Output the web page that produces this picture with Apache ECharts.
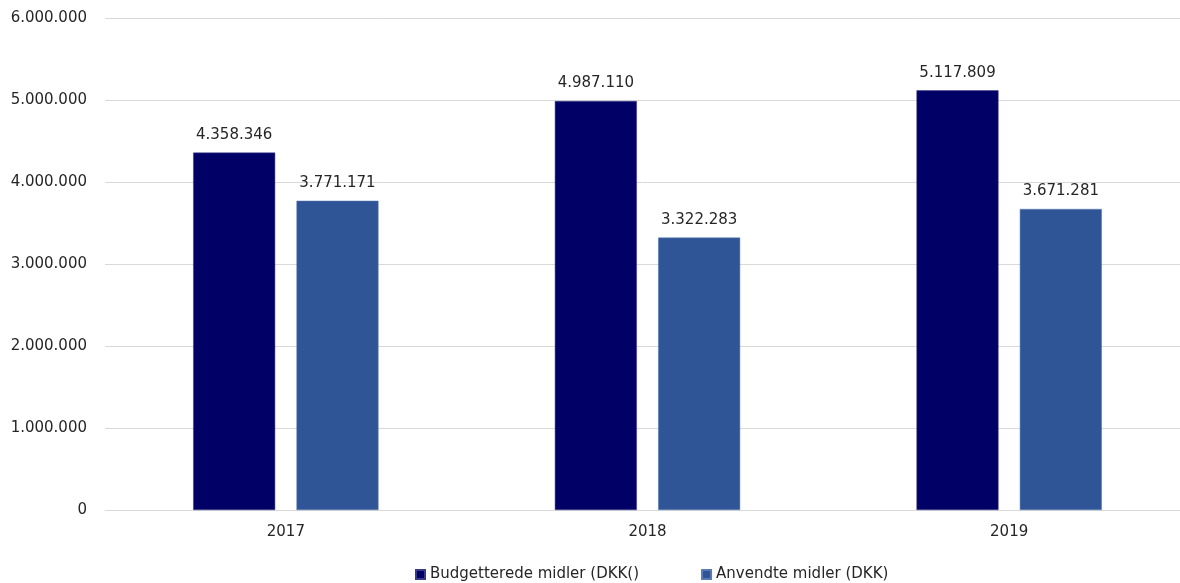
<!DOCTYPE html>
<html><head><meta charset="utf-8">
<script src="https://cdn.jsdelivr.net/npm/echarts@6/dist/echarts.min.js"></script>
<style>html,body{margin:0;padding:0;background:#fff;overflow:hidden}#c{width:1190px;height:583px}</style>
</head><body><div id="c"></div>
<script>
const categories = ['2017', '2018', '2019'];
const seriesNames = ['Budgetterede midler (DKK()', 'Anvendte midler (DKK)'];
const budgetValues = [4358346, 4987110, 5117809];
const usedValues = [3771171, 3322283, 3671281];
const yTicks = [0, 1000000, 2000000, 3000000, 4000000, 5000000, 6000000];

const fmt = v => String(Math.round(v)).replace(/\B(?=(\d{3})+(?!\d))/g, '.');
const font = 'DejaVu Sans';
const txt = '#262626';
const fs = 15;

const chart = echarts.init(document.getElementById('c'));
chart.setOption({
  animation: false,
  textStyle: {fontFamily: font},
  grid: {left: 105, right: 0, top: 18, bottom: 73, containLabel: false},
  legend: {
    top: 562, left: 410, icon: 'rect', itemWidth: 9, itemHeight: 9, itemGap: 62,
    textStyle: {fontFamily: font, fontSize: fs, color: txt},
    data: seriesNames
  },
  xAxis: {
    type: 'category', data: categories,
    axisLine: {lineStyle: {color: '#d9d9d9'}},
    axisTick: {show: false},
    axisLabel: {fontFamily: font, fontSize: fs, color: txt, margin: 15}
  },
  yAxis: {
    type: 'value', min: yTicks[0], max: yTicks[yTicks.length - 1], interval: 1000000,
    axisLine: {show: false}, axisTick: {show: false},
    splitLine: {lineStyle: {color: '#d9d9d9', width: 1}},
    axisLabel: {fontFamily: font, fontSize: fs, color: txt, margin: 18, formatter: fmt}
  },
  series: [
    {
      name: seriesNames[0], type: 'bar', data: budgetValues,
      barWidth: 82, barGap: '26%',
      itemStyle: {color: '#000066', borderColor: '#3a3a8a', borderWidth: 0.5},
      label: {show: true, position: 'top', distance: 10, fontFamily: font, fontSize: fs, color: txt, formatter: p => fmt(p.value)}
    },
    {
      name: seriesNames[1], type: 'bar', data: usedValues,
      barWidth: 82, barGap: '26%',
      itemStyle: {color: '#2F5597', borderColor: '#5a7ab5', borderWidth: 0.5},
      label: {show: true, position: 'top', distance: 10, fontFamily: font, fontSize: fs, color: txt, formatter: p => fmt(p.value)}
    }
  ]
});
</script></body></html>
